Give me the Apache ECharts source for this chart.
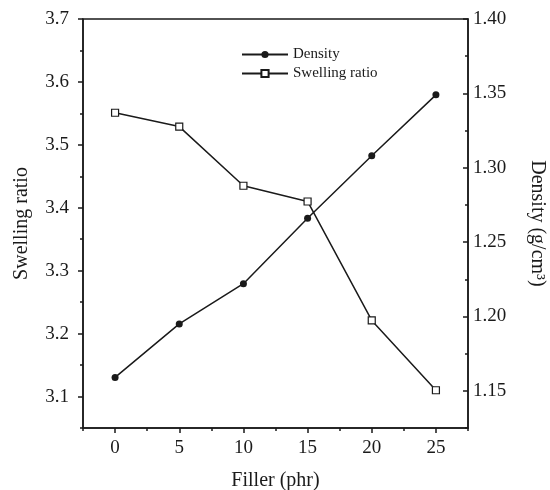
<!DOCTYPE html>
<html>
<head>
<meta charset="utf-8">
<script src="https://cdn.jsdelivr.net/npm/echarts@6/dist/echarts.min.js"></script>
<style>html,body{margin:0;padding:0;background:#fff}#chart{width:550px;height:490px}</style>
</head>
<body>
<div id="chart"></div>
<script>
// Data
var filler = [0, 5, 10, 15, 20, 25];
var density = [1.159, 1.195, 1.222, 1.266, 1.308, 1.349];
var swelling = [3.551, 3.529, 3.435, 3.410, 3.221, 3.110];

var xTicks = [0, 5, 10, 15, 20, 25];
var xMinorTicks = [-2.5, 2.5, 7.5, 12.5, 17.5, 22.5, 27.5];
var leftTicks = [3.1, 3.2, 3.3, 3.4, 3.5, 3.6, 3.7];
var leftMinorTicks = [3.05, 3.15, 3.25, 3.35, 3.45, 3.55, 3.65];
var rightTicks = [1.15, 1.20, 1.25, 1.30, 1.35, 1.40];
var rightMinorTicks = [1.125, 1.175, 1.225, 1.275, 1.325, 1.375];

var FONT = 'Liberation Serif';
var INK = '#1a1a1a';

function pairs(xs, ys) { return xs.map(function (x, i) { return [x, ys[i]]; }); }

var chart = echarts.init(document.getElementById('chart'), null, {renderer: 'canvas'});
chart.setOption({
  animation: false,
  backgroundColor: '#fff',
  textStyle: {fontFamily: FONT, color: INK},
  grid: {left: 83, right: 82, top: 19, bottom: 62, containLabel: false, outerBoundsMode: 'none',
    show: true, borderColor: INK, borderWidth: 1.5, backgroundColor: 'transparent'},
  legend: {
    orient: 'vertical', left: 236, top: 42,
    itemWidth: 46, itemHeight: 9, itemGap: 4,
    textStyle: {fontFamily: FONT, fontSize: 15, color: INK},
    data: ['Density', 'Swelling ratio']
  },
  xAxis: [{
    type: 'value', min: -2.5, max: 27.5, position: 'bottom',
    name: 'Filler (phr)', nameLocation: 'middle', nameGap: 43,
    nameTextStyle: {fontFamily: FONT, fontSize: 20, color: INK},
    axisLine: {show: true, onZero: false, lineStyle: {color: INK, width: 1.5}},
    axisTick: {show: true, length: 5, lineStyle: {color: INK, width: 1.5}, customValues: xTicks},
    axisLabel: {fontFamily: FONT, fontSize: 19, color: INK, margin: 11, customValues: xTicks},
    splitLine: {show: false}
  }, {
    type: 'value', min: -2.5, max: 27.5, position: 'bottom',
    axisLine: {show: false, onZero: false},
    axisTick: {show: true, length: 3, lineStyle: {color: INK, width: 1.5}, customValues: xMinorTicks},
    axisLabel: {show: false},
    splitLine: {show: false}
  }],
  yAxis: [{
    type: 'value', min: 3.05, max: 3.7, position: 'left',
    name: 'Swelling ratio', nameLocation: 'middle', nameGap: 51, nameRotate: 90,
    nameTextStyle: {fontFamily: FONT, fontSize: 20, color: INK},
    axisLine: {show: true, onZero: false, lineStyle: {color: INK, width: 1.5}},
    axisTick: {show: true, length: 5, lineStyle: {color: INK, width: 1.5}, customValues: leftTicks},
    axisLabel: {fontFamily: FONT, fontSize: 19, color: INK, margin: 14, customValues: leftTicks,
      formatter: function (v) { return v.toFixed(1); }},
    splitLine: {show: false}
  }, {
    type: 'value', min: 1.125, max: 1.40, position: 'right',
    name: 'Density (g/cm³)', nameLocation: 'middle', nameGap: 59, nameRotate: -90,
    nameTextStyle: {fontFamily: FONT, fontSize: 20, color: INK},
    axisLine: {show: true, onZero: false, lineStyle: {color: INK, width: 1.5}},
    axisTick: {show: true, inside: true, length: 5, lineStyle: {color: INK, width: 1.5}, customValues: rightTicks},
    axisLabel: {fontFamily: FONT, fontSize: 19, color: INK, margin: 5, customValues: rightTicks,
      formatter: function (v) { return v.toFixed(2); }},
    splitLine: {show: false}
  }, {
    type: 'value', min: 3.05, max: 3.7, position: 'left',
    axisLine: {show: false, onZero: false},
    axisTick: {show: true, length: 3, lineStyle: {color: INK, width: 1.5}, customValues: leftMinorTicks},
    axisLabel: {show: false},
    splitLine: {show: false}
  }, {
    type: 'value', min: 1.125, max: 1.40, position: 'right',
    axisLine: {show: false, onZero: false},
    axisTick: {show: true, inside: true, length: 3, lineStyle: {color: INK, width: 1.5}, customValues: rightMinorTicks},
    axisLabel: {show: false},
    splitLine: {show: false}
  }],
  series: [{
    name: 'Density', type: 'line', xAxisIndex: 0, yAxisIndex: 1,
    data: pairs(filler, density),
    symbol: 'circle', symbolSize: 7,
    lineStyle: {color: INK, width: 1.5},
    itemStyle: {color: INK, borderColor: INK, borderWidth: 0}
  }, {
    name: 'Swelling ratio', type: 'line', xAxisIndex: 0, yAxisIndex: 0,
    data: pairs(filler, swelling),
    symbol: 'rect', symbolSize: 7,
    lineStyle: {color: INK, width: 1.5},
    itemStyle: {color: '#fff', borderColor: INK, borderWidth: 1.2}
  }]
});
</script>
</body>
</html>
